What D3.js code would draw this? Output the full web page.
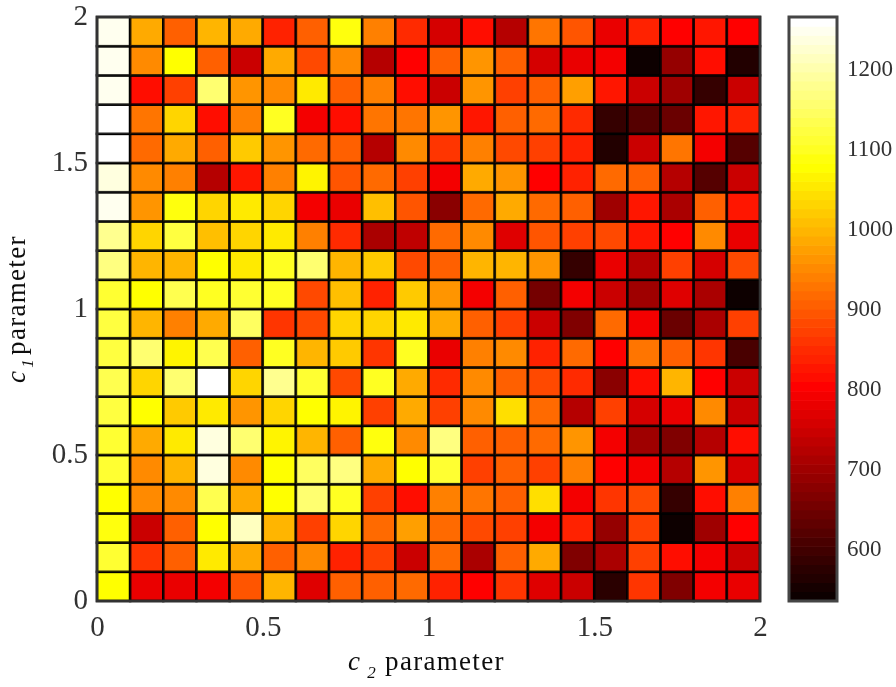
<!DOCTYPE html>
<html><head><meta charset="utf-8">
<script src="https://cdn.jsdelivr.net/npm/d3@7"></script>
<style>html,body{margin:0;background:#fff}svg{display:block}text{font-family:"Liberation Serif",serif;fill:#222}</style>
</head><body><svg id="c" width="896" height="687"></svg>
<script>
// c1 rows from top (1.9) to bottom (0), c2 columns from 0 to 1.9
const row19=[1250,985,910,1000,985,840,905,1095,945,855,765,815,730,930,895,785,845,805,835,805];
const row18=[1250,950,1085,905,750,990,885,960,730,805,910,965,915,765,785,800,550,695,820,570];
const row17=[1255,820,875,1165,965,950,1055,910,945,820,750,970,880,915,975,835,755,700,590,750];
const row16=[1268,930,1035,820,945,1100,790,820,930,930,970,830,915,925,855,590,630,645,835,845];
const row15=[1262,925,990,915,1025,970,925,915,725,950,865,945,890,875,840,565,755,930,800,625];
const row14=[1240,955,945,730,835,945,1075,895,925,875,795,985,965,805,840,925,915,730,630,750];
const row13=[1255,970,1095,1040,1055,1035,795,785,1015,895,680,925,985,925,915,700,835,720,915,835];
const row12=[1185,1030,1125,1015,1035,1055,945,850,720,740,925,960,770,895,870,885,830,805,955,785];
const row11=[1175,1000,1005,1085,1060,1100,1160,1000,1020,885,915,1000,1005,970,585,785,730,875,765,885];
const row10=[1115,1085,1140,1100,1115,1100,885,1015,845,1020,965,800,910,660,800,745,700,770,715,540];
const row09=[1125,1000,945,985,1150,860,885,1040,1030,1060,990,910,880,755,665,925,800,650,715,880];
const row08=[1125,1165,1065,1140,915,1105,1000,1020,860,1105,780,945,950,840,920,805,930,915,860,610];
const row07=[1135,1030,1160,1268,1040,1185,1110,890,1100,990,855,960,910,890,855,680,820,1000,805,755];
const row06=[1125,1080,1025,1055,970,1030,1085,1065,880,995,875,950,1045,920,730,875,765,785,950,755];
const row05=[1110,990,1060,1245,1155,1065,1000,910,1095,950,1175,905,910,925,965,800,700,665,725,815];
const row04=[1110,955,1000,1235,950,1085,1145,1175,985,1085,1115,880,915,870,940,810,800,730,965,765];
const row03=[1085,955,950,1140,990,1085,1165,1100,875,815,945,935,915,1045,800,860,885,590,815,945];
const row02=[1090,745,910,1085,1220,1000,880,1035,925,975,925,890,880,800,840,695,875,550,700,805];
const row01=[1115,860,910,1060,985,915,950,840,870,745,925,720,915,985,675,715,870,815,790,750];
const row00=[1085,785,785,800,895,1000,770,910,915,920,840,805,860,770,755,575,860,670,800,785];
const rows=[row00,row01,row02,row03,row04,row05,row06,row07,row08,row09,row10,row11,row12,row13,row14,row15,row16,row17,row18,row19];
const axisTicks=[0,0.5,1,1.5,2];
const barTicks=[600,700,800,900,1000,1100,1200];
const valueExtent=[539,1269];
const xTitle=["c","2","parameter"];
const yTitle=["c","1","parameter"];

const hot=i=>{const t=(i+1)/64,c=v=>Math.round(255*Math.max(0,Math.min(1,v)));
  return d3.rgb(c(t/0.375),c((t-0.375)/0.375),c((t-0.75)/0.25)).formatHex();};
const color=d3.scaleQuantize().domain(valueExtent).range(d3.range(64).map(hot));

const L=97,R=760,T=17,B=601,CL=789,CR=837;
const x=d3.scaleLinear().domain([0,2]).range([L,R]);
const y=d3.scaleLinear().domain([0,2]).range([B,T]);
const yc=d3.scaleLinear().domain(valueExtent).range([B,T]);
const svg=d3.select("#c");
const defs=svg.append("defs");
defs.append("filter").attr("id","soft").attr("x","-5%").attr("y","-5%").attr("width","110%").attr("height","110%")
  .append("feGaussianBlur").attr("stdDeviation",0.6);
defs.append("filter").attr("id","softT").attr("x","-20%").attr("y","-20%").attr("width","140%").attr("height","140%")
  .append("feGaussianBlur").attr("stdDeviation",0.6);

const plot=svg.append("g").attr("filter","url(#soft)");
plot.selectAll("g").data(rows).join("g").each(function(r,i){
  d3.select(this).selectAll("rect").data(r).join("rect")
    .attr("x",(d,j)=>x(j*0.1)).attr("width",x(0.1)-x(0))
    .attr("y",y((i+1)*0.1)).attr("height",y(0)-y(0.1))
    .attr("fill",d=>color(d)).attr("stroke","#000").attr("stroke-opacity",0.85).attr("stroke-width",2.6);
});
plot.append("rect").attr("x",L).attr("y",T).attr("width",R-L).attr("height",B-T).attr("fill","none").attr("stroke","#333").attr("stroke-width",2.6);

const txt=svg.append("g").attr("filter","url(#softT)");
const ax=txt.append("g").attr("transform",`translate(0,${B})`).call(d3.axisBottom(x).tickValues(axisTicks).tickFormat(d3.format("~g")).tickSize(0).tickPadding(14));
const ay=txt.append("g").attr("transform",`translate(${L},-2)`).call(d3.axisLeft(y).tickValues(axisTicks).tickFormat(d3.format("~g")).tickSize(0).tickPadding(9));
[ax,ay].forEach(a=>{a.select(".domain").remove();a.selectAll("text").attr("font-size",29).style("fill","#333");});
function title(sel,parts,gapSub,gapWord){
  sel.attr("font-size",27).attr("text-anchor","start").style("fill","#111").attr("letter-spacing",1.3);
  sel.append("tspan").attr("font-style","italic").text(parts[0]);
  sel.append("tspan").attr("font-size",17).attr("dx",gapSub).attr("dy",8).attr("font-style","italic").text(parts[1]);
  sel.append("tspan").attr("dx",gapWord).attr("dy",-8).text(parts[2]);
}
title(txt.append("text").attr("x",348).attr("y",670),xTitle,6,8);
title(txt.append("text").attr("transform","translate(25,383) rotate(-90)"),yTitle,2,3);

const bar=svg.append("g").attr("filter","url(#soft)");
bar.selectAll("rect").data(color.range()).join("rect")
  .attr("x",CL).attr("width",CR-CL)
  .attr("y",d=>yc(color.invertExtent(d)[1])).attr("height",(B-T)/64+0.6).attr("fill",d=>d);
bar.append("rect").attr("x",CL).attr("y",T).attr("width",CR-CL).attr("height",B-T).attr("fill","none").attr("stroke","#444").attr("stroke-width",3);
const ac=txt.append("g").attr("transform",`translate(${CR},0)`).call(d3.axisRight(yc).tickValues(barTicks).tickFormat(d3.format("d")).tickSizeInner(-5).tickSizeOuter(0).tickPadding(10));
ac.select(".domain").remove();
ac.selectAll("line").attr("stroke","#333").attr("stroke-width",1.5);
ac.selectAll("text").attr("font-size",23).attr("y",0).attr("dy","0.14em").style("fill","#333");
</script></body></html>
